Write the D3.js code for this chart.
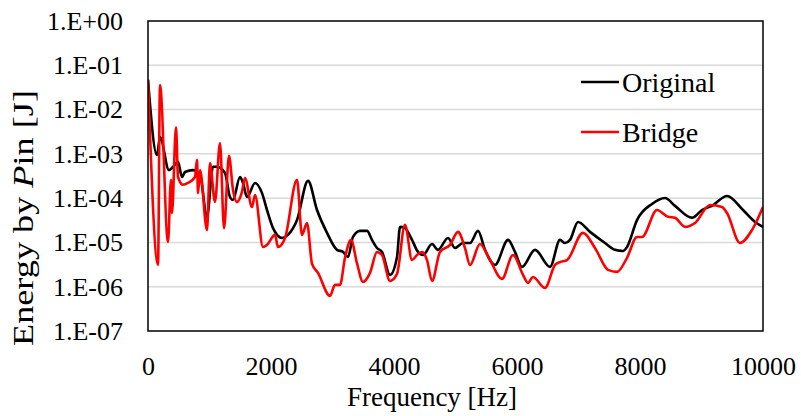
<!DOCTYPE html>
<html><head><meta charset="utf-8">
<script src="https://cdn.jsdelivr.net/npm/d3@7"></script>
<style>html,body{margin:0;padding:0;background:#fff;}</style></head>
<body><svg id="chart" width="801" height="416"></svg>
<script>
// ---- data ----
const origFreq = [0,146,195,341,407,488,553,602,732,846,959,1057,1122,1252,1333,1382,1496,1545,1610,1740,1854,1935,2033,2179,2276,2423,2602,2748,2911,3073,3171,3252,3333,3447,3561,3642,3724,3805,3935,4049,4098,4179,4293,4390,4472,4618,4715,4878,4992,5122,5236,5366,5480,5642,5854,5967,6081,6293,6537,6699,6780,6862,6992,7187,7431,7593,7724,7789,7951,8195,8407,8569,8846,9008,9171,9415,9675,9870,10000];
const origVal = [4.7e-2,9.4e-4,2.4e-3,4.3e-4,5.1e-4,6.6e-4,3.0e-4,3.9e-4,4.3e-4,3.3e-4,3.8e-5,5.1e-4,5.1e-4,3.7e-4,1.06e-4,9.1e-5,3.0e-4,2.2e-4,1.06e-4,2.2e-4,1.3e-4,5.4e-5,2.1e-5,1.26e-5,1.48e-5,3.2e-5,2.45e-4,5.4e-5,1.64e-5,6.8e-6,6.1e-6,4.7e-6,1.33e-5,1.82e-5,1.82e-5,1.14e-5,7.5e-6,6.1e-6,1.85e-6,4.7e-6,2.24e-5,2.1e-5,1.14e-5,6.1e-6,5.2e-6,9.2e-6,6.8e-6,1.26e-5,7.5e-6,9.7e-6,9.7e-6,1.82e-5,6.8e-6,3.1e-6,1.14e-5,6.1e-6,2.8e-6,6.8e-6,2.8e-6,1.14e-5,9.7e-6,1.14e-5,2.9e-5,1.73e-5,9.7e-6,6.8e-6,6.4e-6,7.9e-6,3.2e-5,7.4e-5,1.01e-4,6.7e-5,3.6e-5,5.4e-5,6.7e-5,1.12e-4,5.4e-5,2.9e-5,2.24e-5];
const bridgeFreq = [0,163,195,325,374,390,455,488,569,650,764,797,813,846,959,1008,1089,1171,1236,1317,1382,1447,1528,1577,1691,1740,1870,1935,2065,2114,2228,2423,2504,2585,2667,2764,2959,3041,3122,3203,3301,3398,3496,3610,3724,3805,3935,4049,4179,4293,4374,4455,4537,4618,4748,4911,5041,5154,5236,5398,5561,5756,5935,6098,6179,6260,6455,6618,6699,6813,7073,7268,7480,7626,7789,7951,8033,8276,8455,8569,8732,8894,9138,9333,9415,9626,9821,10000];
const bridgeVal = [4.7e-2,3.1e-6,3.6e-2,1.03e-5,2.6e-4,4.6e-5,4.0e-3,3.0e-4,2.0e-4,2.2e-4,3.0e-4,7.3e-4,1.3e-4,4.3e-4,1.9e-5,6.2e-4,8.2e-5,1.76e-3,2.1e-5,9.0e-4,1.53e-4,8.2e-5,1.38e-4,2.86e-4,6.3e-5,1.18e-4,7.9e-6,8.8e-6,1.48e-5,7.9e-6,1.26e-5,2.6e-4,1.48e-5,2.75e-5,3.3e-6,2.05e-6,6.2e-7,1.1e-6,1.1e-6,4.5e-6,1.14e-5,3.4e-6,1.28e-6,2.05e-6,6.1e-6,5.2e-6,1.35e-6,1.95e-6,2.5e-5,4.0e-6,5.2e-6,6.1e-6,4.0e-6,1.35e-6,6.1e-6,8.8e-6,1.73e-5,7.5e-6,3.1e-6,9.2e-6,4.0e-6,1.5e-6,5.2e-6,1.85e-6,1.22e-6,1.66e-6,9.4e-7,3.1e-6,3.6e-6,4.0e-6,1.64e-5,7.5e-6,2.4e-6,2.16e-6,4.5e-6,1.33e-5,1.33e-5,5.4e-5,3.8e-5,3.6e-5,2.24e-5,2.75e-5,7.0e-5,6.3e-5,4.6e-5,9.7e-6,1.9e-5,6.3e-5];
const xTicks = [0,2000,4000,6000,8000,10000];
const yTicks = [1e0,1e-1,1e-2,1e-3,1e-4,1e-5,1e-6,1e-7];
const yTickLabels = ["1.E+00","1.E-01","1.E-02","1.E-03","1.E-04","1.E-05","1.E-06","1.E-07"];
const seriesNames = ["Original","Bridge"];
const seriesColors = ["#000000","#ff0000"];

// ---- layout ----
const FONT = "'Liberation Serif'";
const L = 148, R = 763, T = 21, B = 331;
const svg = d3.select("#chart");
const x = d3.scaleLinear().domain([0,10000]).range([L,R]);
const y = d3.scaleLog().domain([1e-7,1]).range([B,T]);

function serif(sel, size){
  sel.attr("font-family","Liberation Serif").attr("font-size",size)
     .style("font-family",FONT).style("font-size",size+"px").attr("fill","#000");
  return sel;
}

// gridlines
svg.append("g").selectAll("line").data(yTicks.slice(1,-1)).join("line")
  .attr("x1",L).attr("x2",R).attr("y1",d=>y(d)).attr("y2",d=>y(d))
  .attr("stroke","#d9d9d9").attr("stroke-width",1.5);

// y axis labels
const yAxis = d3.axisLeft(y).tickValues(yTicks).tickSize(0).tickPadding(25)
  .tickFormat((d,i)=>yTickLabels[i]);
const gy = svg.append("g").attr("transform",`translate(${L},0)`).call(yAxis);
gy.attr("font-family","Liberation Serif").attr("font-size",26);
gy.select(".domain").remove();
serif(gy.selectAll("text"),26);

// x axis labels
const xAxis = d3.axisBottom(x).tickValues(xTicks).tickSize(0).tickPadding(26).tickFormat(d3.format("d"));
const gx = svg.append("g").attr("transform",`translate(0,${B})`).call(xAxis);
gx.attr("font-family","Liberation Serif").attr("font-size",26);
gx.select(".domain").remove();
serif(gx.selectAll("text"),26);

// clip
svg.append("clipPath").attr("id","clip").append("rect").attr("x",L).attr("y",T).attr("width",R-L).attr("height",B-T);

const line = d3.line().x(d=>x(d[0])).y(d=>y(d[1])).curve(d3.curveMonotoneX);
const origData = origFreq.map((f,i)=>[f,origVal[i]]);
const bridgeData = bridgeFreq.map((f,i)=>[f,bridgeVal[i]]);
const gl = svg.append("g").attr("clip-path","url(#clip)");
gl.append("path").datum(origData).attr("d",line).attr("fill","none")
  .attr("stroke",seriesColors[0]).attr("stroke-width",2.6).attr("stroke-linejoin","round");
gl.append("path").datum(bridgeData).attr("d",line).attr("fill","none")
  .attr("stroke",seriesColors[1]).attr("stroke-width",2.6).attr("stroke-linejoin","round");

// frame
svg.append("rect").attr("x",L).attr("y",T).attr("width",R-L).attr("height",B-T)
  .attr("fill","none").attr("stroke","#000").attr("stroke-width",1.5);

// legend
const leg = svg.append("g");
[0,1].forEach(i=>{
  const ly = 82 + i*50;
  leg.append("line").attr("x1",581).attr("x2",619).attr("y1",ly).attr("y2",ly)
    .attr("stroke",seriesColors[i]).attr("stroke-width",2.6);
  serif(leg.append("text").attr("x",622).attr("y",ly+10),28).text(seriesNames[i]);
});

// axis titles
serif(svg.append("text").attr("x",432).attr("y",406).attr("text-anchor","middle"),27)
  .text("Frequency [Hz]");
const yt = serif(svg.append("text").attr("transform","translate(33,218) rotate(-90) scale(1.25,1)")
  .attr("text-anchor","middle"),29);
yt.append("tspan").text("Energy by ");
yt.append("tspan").style("font-style","italic").text("P");
yt.append("tspan").text("in [J]");
</script></body></html>
